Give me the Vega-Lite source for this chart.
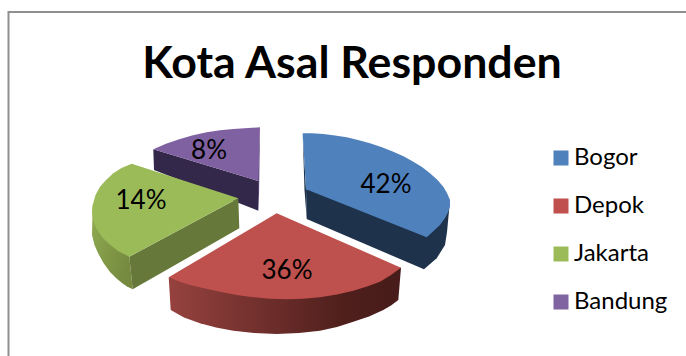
{
  "$schema": "https://vega.github.io/schema/vega-lite/v6.json",
  "width": 686,
  "height": 356,
  "padding": 0,
  "autosize": "none",
  "background": "white",
  "title": {
    "text": "Kota Asal Responden",
    "font": "Lato",
    "fontWeight": "bold",
    "fontSize": 44.7,
    "color": "#000000",
    "frame": "group",
    "anchor": "middle",
    "baseline": "alphabetic",
    "offset": 0,
    "dx": 9,
    "dy": 123
  },
  "config": {"view": {"stroke": null}},
  "datasets": {
    "shares": [
      {"kota": "Bogor", "share": 0.42, "x": 386, "y": 185},
      {"kota": "Depok", "share": 0.36, "x": 287, "y": 271},
      {"kota": "Jakarta", "share": 0.14, "x": 141, "y": 201},
      {"kota": "Bandung", "share": 0.08, "x": 209, "y": 151}
    ],
    "frame": [
      {"n": 0, "x": 8.5, "y": 356},
      {"n": 1, "x": 8.5, "y": 12},
      {"n": 2, "x": 686, "y": 12}
    ],
    "bandungSide": [
      {"n": 0, "x": 153.3, "y": 149.3},
      {"n": 1, "x": 258.3, "y": 181},
      {"n": 2, "x": 258.3, "y": 210.7},
      {"n": 3, "x": 154, "y": 170}
    ],
    "bandungEdge": [
      {"n": 0, "x": 260, "y": 127.3},
      {"n": 1, "x": 258.8, "y": 210.7},
      {"n": 2, "x": 257.5, "y": 181}
    ],
    "bandungTop": [
      {"n": 0, "x": 153.3, "y": 149.3},
      {"n": 1, "x": 166, "y": 143.7},
      {"n": 2, "x": 180, "y": 139},
      {"n": 3, "x": 193, "y": 135.2},
      {"n": 4, "x": 206.7, "y": 132.3},
      {"n": 5, "x": 220, "y": 130.3},
      {"n": 6, "x": 233.3, "y": 129},
      {"n": 7, "x": 260, "y": 127.3},
      {"n": 8, "x": 258.3, "y": 181}
    ],
    "bogorEdge": [
      {"n": 0, "x": 302.7, "y": 133.3},
      {"n": 1, "x": 306, "y": 189.3},
      {"n": 2, "x": 306.7, "y": 219},
      {"n": 3, "x": 304.5, "y": 190}
    ],
    "bogorSide": [
      {"n": 0, "x": 306, "y": 189.3},
      {"n": 1, "x": 450, "y": 200},
      {"n": 2, "x": 447, "y": 232},
      {"n": 3, "x": 445, "y": 245},
      {"n": 4, "x": 436.7, "y": 258.3},
      {"n": 5, "x": 424, "y": 269.3},
      {"n": 6, "x": 306.7, "y": 219}
    ],
    "bogorTop": [
      {"n": 0, "x": 302.7, "y": 133.3},
      {"n": 1, "x": 312, "y": 133.3},
      {"n": 2, "x": 323.3, "y": 134},
      {"n": 3, "x": 335, "y": 135.5},
      {"n": 4, "x": 346.7, "y": 137.3},
      {"n": 5, "x": 358, "y": 140},
      {"n": 6, "x": 370, "y": 143.3},
      {"n": 7, "x": 382, "y": 147.3},
      {"n": 8, "x": 393.3, "y": 151.7},
      {"n": 9, "x": 404, "y": 156.5},
      {"n": 10, "x": 413.3, "y": 161.7},
      {"n": 11, "x": 422, "y": 167},
      {"n": 12, "x": 430, "y": 173.3},
      {"n": 13, "x": 437.5, "y": 180},
      {"n": 14, "x": 443.3, "y": 186.7},
      {"n": 15, "x": 447, "y": 193},
      {"n": 16, "x": 450, "y": 200},
      {"n": 17, "x": 450, "y": 206},
      {"n": 18, "x": 448.3, "y": 211.7},
      {"n": 19, "x": 445, "y": 218},
      {"n": 20, "x": 440, "y": 225},
      {"n": 21, "x": 433.5, "y": 231},
      {"n": 22, "x": 426.7, "y": 237.3},
      {"n": 23, "x": 306, "y": 189.3}
    ],
    "jakartaRim": [
      {"n": 0, "x": 92.7, "y": 205},
      {"n": 1, "x": 92, "y": 235},
      {"n": 2, "x": 94.5, "y": 245},
      {"n": 3, "x": 98, "y": 253},
      {"n": 4, "x": 103.5, "y": 263},
      {"n": 5, "x": 110, "y": 272},
      {"n": 6, "x": 116, "y": 278},
      {"n": 7, "x": 122, "y": 283},
      {"n": 8, "x": 127, "y": 286.5},
      {"n": 9, "x": 132.7, "y": 289.3},
      {"n": 10, "x": 129.3, "y": 256.7}
    ],
    "jakartaCut": [
      {"n": 0, "x": 129.3, "y": 256.7},
      {"n": 1, "x": 238.3, "y": 198.3},
      {"n": 2, "x": 239.3, "y": 228.3},
      {"n": 3, "x": 132.7, "y": 289.3}
    ],
    "jakartaTop": [
      {"n": 0, "x": 131.7, "y": 163.7},
      {"n": 1, "x": 121.5, "y": 168},
      {"n": 2, "x": 113.3, "y": 173.3},
      {"n": 3, "x": 106, "y": 180},
      {"n": 4, "x": 100, "y": 186.7},
      {"n": 5, "x": 95.5, "y": 195},
      {"n": 6, "x": 92.7, "y": 205},
      {"n": 7, "x": 92, "y": 212},
      {"n": 8, "x": 93, "y": 219},
      {"n": 9, "x": 95, "y": 226},
      {"n": 10, "x": 98, "y": 231},
      {"n": 11, "x": 102.5, "y": 237.5},
      {"n": 12, "x": 108, "y": 243},
      {"n": 13, "x": 118, "y": 251},
      {"n": 14, "x": 129.3, "y": 256.7},
      {"n": 15, "x": 238.3, "y": 198.3}
    ],
    "depokSide": [
      {"n": 0, "x": 168.7, "y": 277.3},
      {"n": 1, "x": 276.7, "y": 270},
      {"n": 2, "x": 401, "y": 267.7},
      {"n": 3, "x": 398.3, "y": 300},
      {"n": 4, "x": 391, "y": 305.5},
      {"n": 5, "x": 383.3, "y": 310},
      {"n": 6, "x": 369, "y": 316.5},
      {"n": 7, "x": 353.3, "y": 321.7},
      {"n": 8, "x": 337, "y": 327},
      {"n": 9, "x": 320, "y": 330.7},
      {"n": 10, "x": 299, "y": 333},
      {"n": 11, "x": 276.7, "y": 334},
      {"n": 12, "x": 254, "y": 333},
      {"n": 13, "x": 233.3, "y": 330.7},
      {"n": 14, "x": 216, "y": 327.5},
      {"n": 15, "x": 200, "y": 323.3},
      {"n": 16, "x": 184, "y": 317.5},
      {"n": 17, "x": 170.7, "y": 310}
    ],
    "depokTop": [
      {"n": 0, "x": 276.7, "y": 213.3},
      {"n": 1, "x": 401, "y": 267.7},
      {"n": 2, "x": 391, "y": 275},
      {"n": 3, "x": 380, "y": 281.7},
      {"n": 4, "x": 367, "y": 286.5},
      {"n": 5, "x": 353.3, "y": 290.7},
      {"n": 6, "x": 337, "y": 294.5},
      {"n": 7, "x": 320, "y": 297.3},
      {"n": 8, "x": 303, "y": 298.7},
      {"n": 9, "x": 286.7, "y": 299.3},
      {"n": 10, "x": 270, "y": 298.7},
      {"n": 11, "x": 253.3, "y": 297.3},
      {"n": 12, "x": 236.5, "y": 295},
      {"n": 13, "x": 220, "y": 291.7},
      {"n": 14, "x": 205, "y": 288.5},
      {"n": 15, "x": 190, "y": 285},
      {"n": 16, "x": 179, "y": 281.5},
      {"n": 17, "x": 168.7, "y": 277.3}
    ]
  },
  "encoding": {
    "x": {"field": "x", "type": "quantitative", "axis": null, "scale": {"domain": [0, 686], "range": [0, 686], "nice": false, "zero": false}},
    "y": {"field": "y", "type": "quantitative", "axis": null, "scale": {"domain": [0, 356], "range": [0, 356], "nice": false, "zero": false}},
    "order": {"field": "n", "type": "quantitative"}
  },
  "layer": [
    {"data": {"name": "frame"}, "mark": {"type": "line", "stroke": "#8f8f8f", "strokeWidth": 2, "clip": true}},
    {"data": {"name": "bandungEdge"}, "mark": {"type": "line", "interpolate": "linear-closed", "fill": "#5f4a80", "stroke": null}},
    {"data": {"name": "bandungSide"}, "mark": {"type": "line", "interpolate": "linear-closed", "fill": "#33284a", "stroke": null}},
    {"data": {"name": "bandungTop"}, "mark": {"type": "line", "interpolate": "linear-closed", "fill": "#7f60a0", "stroke": null}},
    {"data": {"name": "bogorEdge"}, "mark": {"type": "line", "interpolate": "linear-closed", "fill": "#1f344f", "stroke": null}},
    {"data": {"name": "bogorSide"}, "mark": {"type": "line", "interpolate": "linear-closed", "fill": "#1e324c", "stroke": null}},
    {"data": {"name": "bogorTop"}, "mark": {"type": "line", "interpolate": "linear-closed", "fill": "#4f81bd", "stroke": null}},
    {"data": {"name": "jakartaRim"}, "mark": {"type": "line", "interpolate": "linear-closed", "stroke": null, "fill": {"gradient": "linear", "x1": 0, "y1": 0, "x2": 1, "y2": 0.6, "stops": [{"offset": 0, "color": "#8fab50"}, {"offset": 1, "color": "#75893f"}]}}},
    {"data": {"name": "jakartaCut"}, "mark": {"type": "line", "interpolate": "linear-closed", "fill": "#66793a", "stroke": null}},
    {"data": {"name": "jakartaTop"}, "mark": {"type": "line", "interpolate": "linear-closed", "fill": "#9bbb59", "stroke": null}},
    {"data": {"name": "depokSide"}, "mark": {"type": "line", "interpolate": "linear-closed", "stroke": null, "fill": {"gradient": "linear", "x1": 0, "y1": 0, "x2": 1, "y2": 0, "stops": [{"offset": 0, "color": "#96423f"}, {"offset": 0.75, "color": "#4f1f1c"}, {"offset": 1, "color": "#471c1a"}]}}},
    {"data": {"name": "depokTop"}, "mark": {"type": "line", "interpolate": "linear-closed", "fill": "#be504d", "stroke": null}},
    {
      "data": {"name": "shares"},
      "mark": {"type": "text", "font": "Lato", "fontSize": 26, "color": "#000000", "align": "center", "baseline": "middle"},
      "encoding": {
        "order": null,
        "text": {"field": "share", "type": "quantitative", "format": ".0%"}
      }
    },
    {
      "data": {"name": "shares"},
      "mark": {"type": "square", "opacity": 0},
      "encoding": {
        "order": null,
        "fill": {
          "field": "kota",
          "type": "nominal",
          "sort": null,
          "scale": {"domain": ["Bogor", "Depok", "Jakarta", "Bandung"], "range": ["#4f81bd", "#c0504d", "#9bbb59", "#8064a2"]},
          "legend": {
            "title": null,
            "orient": "none",
            "legendX": 549,
            "legendY": 144,
            "symbolType": "square",
            "symbolSize": 225,
            "symbolOpacity": 1,
            "symbolStrokeWidth": 0,
            "labelFont": "Lato",
            "labelFontSize": 24,
            "labelColor": "#000000",
            "labelOffset": 1,
            "rowPadding": 20,
            "clipHeight": 28
          }
        }
      }
    }
  ]
}
